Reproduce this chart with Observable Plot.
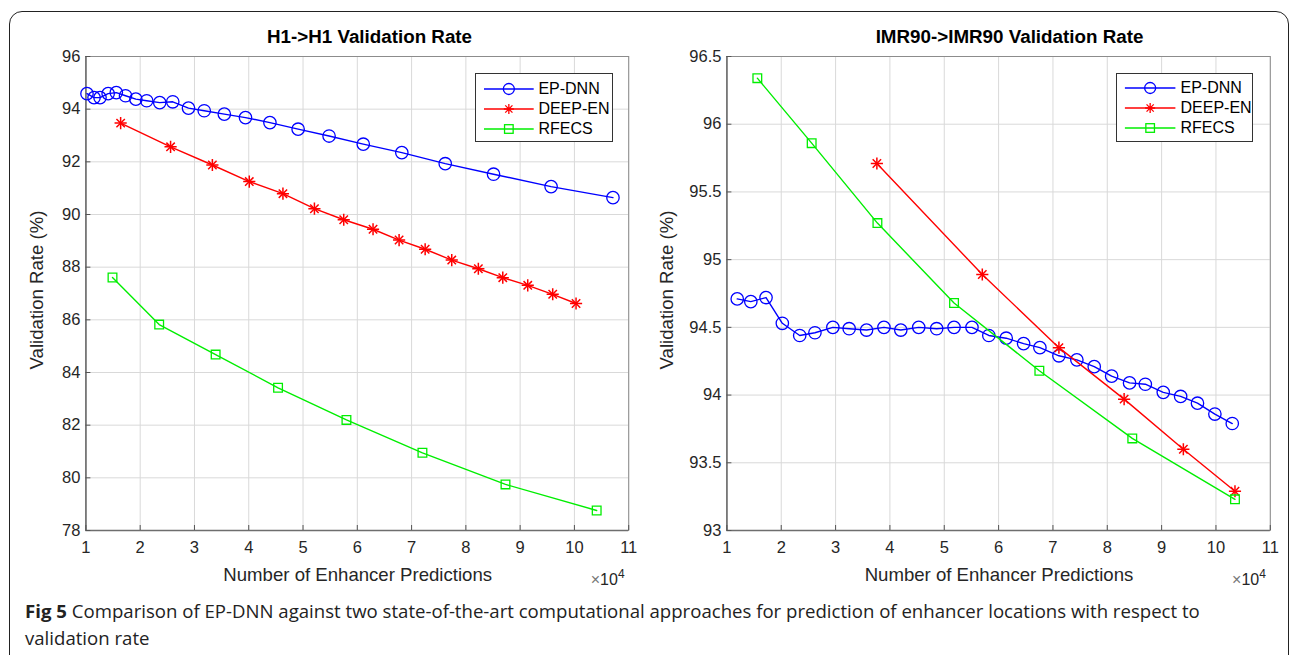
<!DOCTYPE html>
<html>
<head>
<meta charset="utf-8">
<script src="https://cdn.jsdelivr.net/npm/d3@7"></script>
<script src="https://cdn.jsdelivr.net/npm/@observablehq/plot@0.6"></script>
<style>
  html, body { margin: 0; padding: 0; background: #fff; }
  #page { position: relative; width: 1292px; height: 655px; overflow: hidden; background: #fff; font-family: "Liberation Sans", Arial, sans-serif; }
  #border { position: absolute; left: 9px; top: 11px; width: 1280px; height: 680px; border: 1.5px solid #222; border-radius: 13px; box-sizing: border-box; }
  .abs { position: absolute; white-space: nowrap; }
  .c { transform: translate(-50%, -50%); }
  .title { font-weight: bold; font-size: 18.8px; color: #000; }
  .xlab { font-size: 18.6px; color: #262626; }
  .ylab { font-size: 18.6px; color: #262626; transform: translate(-50%, -50%) rotate(-90deg); }
  .exp { font-size: 16px; color: #262626; }
  .exp .times { color: #777; }
  .legend { position: absolute; border: 1.5px solid #333; background: #fff; box-sizing: border-box; }
  .cap { position: absolute; font-family: "Open Sans", sans-serif; font-size: 18.6px; line-height: 27px; color: #222; white-space: nowrap; }
</style>
</head>
<body>
<div id="page">
  <div id="border"></div>
</div>
<script>
// ---------- data (x in units of 10^4 enhancer predictions, y in %) ----------
const seriesNames = ["EP-DNN", "DEEP-EN", "RFECS"];
const seriesColors = ["#0000ff", "#ff0000", "#00ee00"];

// H1 -> H1
const h1EpDnnX = [1.02, 1.15, 1.26, 1.41, 1.56, 1.73, 1.92, 2.12, 2.36, 2.60, 2.89, 3.18, 3.55, 3.94, 4.39, 4.91, 5.48, 6.11, 6.82, 7.62, 8.51, 9.57, 10.71];
const h1EpDnnY = [94.59, 94.44, 94.44, 94.59, 94.63, 94.51, 94.38, 94.32, 94.25, 94.28, 94.04, 93.94, 93.81, 93.68, 93.49, 93.24, 92.98, 92.67, 92.35, 91.93, 91.53, 91.06, 90.64];
const h1DeepEnX = [1.64, 2.56, 3.33, 4.01, 4.63, 5.21, 5.75, 6.29, 6.77, 7.25, 7.74, 8.23, 8.68, 9.14, 9.60, 10.03];
const h1DeepEnY = [93.47, 92.57, 91.88, 91.25, 90.79, 90.22, 89.80, 89.44, 89.03, 88.68, 88.27, 87.94, 87.60, 87.31, 86.97, 86.62];
const h1RfecsX = [1.49, 2.35, 3.39, 4.54, 5.80, 7.20, 8.73, 10.41];
const h1RfecsY = [87.61, 85.82, 84.68, 83.42, 82.20, 80.95, 79.75, 78.76];

// IMR90 -> IMR90
const imrEpDnnX = [1.19, 1.44, 1.72, 2.02, 2.34, 2.62, 2.95, 3.25, 3.57, 3.89, 4.20, 4.53, 4.86, 5.18, 5.51, 5.82, 6.14, 6.46, 6.76, 7.11, 7.44, 7.76, 8.08, 8.41, 8.70, 9.03, 9.35, 9.66, 9.98, 10.30];
const imrEpDnnY = [94.71, 94.69, 94.72, 94.53, 94.44, 94.46, 94.50, 94.49, 94.48, 94.50, 94.48, 94.50, 94.49, 94.50, 94.50, 94.44, 94.42, 94.38, 94.35, 94.29, 94.26, 94.21, 94.14, 94.09, 94.08, 94.02, 93.99, 93.94, 93.86, 93.79];
const imrDeepEnX = [3.76, 5.70, 7.11, 8.31, 9.40, 10.35];
const imrDeepEnY = [95.71, 94.89, 94.35, 93.97, 93.60, 93.29];
const imrRfecsX = [1.56, 2.56, 3.77, 5.18, 6.75, 8.46, 10.35];
const imrRfecsY = [96.34, 95.86, 95.27, 94.68, 94.18, 93.68, 93.23];

// axes
const xTicks = [1, 2, 3, 4, 5, 6, 7, 8, 9, 10, 11];
const h1YTicks = [78, 80, 82, 84, 86, 88, 90, 92, 94, 96];
const imrYTicks = [93, 93.5, 94, 94.5, 95, 95.5, 96, 96.5];

const titles = ["H1->H1 Validation Rate", "IMR90->IMR90 Validation Rate"];
const xLabel = "Number of Enhancer Predictions";
const yLabel = "Validation Rate (%)";
const captionBold = "Fig 5";
const captionLine1 = "Comparison of EP-DNN against two state-of-the-art computational approaches for prediction of enhancer locations with respect to";
const captionLine2 = "validation rate";

// ---------- helpers ----------
const zip = (name, xs, ys) => xs.map((x, i) => ({series: name, x, y: ys[i]}));

function seriesMarks(data, color, name) {
  const marks = [Plot.line(data, {x: "x", y: "y", stroke: color, strokeWidth: 1.4})];
  if (name === "EP-DNN") {
    marks.push(Plot.dot(data, {x: "x", y: "y", r: 6.2, stroke: color, strokeWidth: 1.3, fill: "none"}));
  } else if (name === "DEEP-EN") {
    marks.push(Plot.dot(data, {x: "x", y: "y", symbol: "plus", r: 4, stroke: color, strokeWidth: 1.5}));
    marks.push(Plot.dot(data, {x: "x", y: "y", symbol: "times", r: 3.9, stroke: color, strokeWidth: 1.5}));
  } else {
    marks.push(Plot.dot(data, {x: "x", y: "y", symbol: "square", r: 4.9, stroke: color, strokeWidth: 1.3, fill: "none"}));
  }
  return marks;
}

function makeChart(cfg) {
  const {groups, yDomain, yTicks, width, marginLeft, marginRight} = cfg;
  return Plot.plot({
    width,
    height: 600,
    marginTop: 56,
    marginBottom: 70,
    marginLeft,
    marginRight,
    style: {background: "transparent", fontFamily: "Liberation Sans, Arial, sans-serif", fontSize: "16.5px", color: "#262626", overflow: "visible"},
    x: {domain: [1, 11], ticks: xTicks},
    y: {domain: yDomain, ticks: yTicks},
    marks: [
      Plot.gridX(xTicks, {stroke: "#d9d9d9", strokeOpacity: 1, strokeWidth: 1}),
      Plot.gridY(yTicks, {stroke: "#d9d9d9", strokeOpacity: 1, strokeWidth: 1}),
      Plot.frame({stroke: "#8c8c8c", strokeWidth: 1}),
      Plot.ruleX([1], {stroke: "#6e6e6e", strokeWidth: 1.5}),
      Plot.ruleY([yDomain[0]], {stroke: "#6e6e6e", strokeWidth: 1.5}),
      Plot.axisX(xTicks, {anchor: "bottom", tickSize: -5, tickPadding: 16, label: null, tickFormat: d => String(d), stroke: "#555", fill: "#262626"}),
      Plot.axisY(yTicks, {anchor: "left", tickSize: -5, tickPadding: 10.5, label: null, tickFormat: d => String(d), stroke: "#555", fill: "#262626"}),
      ...groups.flatMap(g => seriesMarks(g.data, g.color, g.name))
    ]
  });
}

const page = document.getElementById("page");

function place(el, left, top) {
  el.style.position = "absolute";
  el.style.left = left + "px";
  el.style.top = top + "px";
  page.appendChild(el);
}

function addText(cls, text, x, y, html) {
  const d = document.createElement("div");
  d.className = "abs " + cls;
  if (html) d.innerHTML = text; else d.textContent = text;
  d.style.left = x + "px";
  d.style.top = y + "px";
  page.appendChild(d);
  return d;
}

function addLegend(left, top, width, height, lineX1, lineX2, textX, rowYs) {
  const box = document.createElement("div");
  box.className = "legend";
  box.style.left = left + "px";
  box.style.top = top + "px";
  box.style.width = width + "px";
  box.style.height = height + "px";
  seriesNames.forEach((name, i) => {
    const ns = "http://www.w3.org/2000/svg";
    const svg = document.createElementNS(ns, "svg");
    svg.setAttribute("width", width);
    svg.setAttribute("height", 20);
    svg.style.position = "absolute";
    svg.style.left = "-1.5px";
    svg.style.top = (rowYs[i] - top - 11.5) + "px";
    const color = seriesColors[i];
    const mid = (lineX1 + lineX2) / 2 - left;
    let inner = `<line x1="${lineX1 - left}" x2="${lineX2 - left}" y1="10" y2="10" stroke="${color}" stroke-width="1.4"/>`;
    if (i === 0) inner += `<circle cx="${mid}" cy="10" r="5.5" fill="none" stroke="${color}" stroke-width="1.3"/>`;
    if (i === 1) inner += `<path d="M${mid - 5},10h10M${mid},5v10M${mid - 3.6},6.4l7.2,7.2M${mid - 3.6},13.6l7.2,-7.2" stroke="${color}" stroke-width="1.3"/>`;
    if (i === 2) inner += `<rect x="${mid - 4.3}" y="5.7" width="8.6" height="8.6" fill="none" stroke="${color}" stroke-width="1.3"/>`;
    svg.innerHTML = inner;
    box.appendChild(svg);
    const t = document.createElement("span");
    t.textContent = name;
    t.style.position = "absolute";
    t.style.whiteSpace = "nowrap";
    t.style.left = (textX - left - 1.5) + "px";
    t.style.top = (rowYs[i] - top - 1.5) + "px";
    t.style.transform = "translateY(-52%)";
    t.style.fontSize = "16px";
    t.style.color = "#000";
    box.appendChild(t);
  });
  page.appendChild(box);
}

// ---------- left chart (plot area x 85.4 .. 628.2) ----------
const leftChart = makeChart({
  groups: [
    {name: "EP-DNN", color: seriesColors[0], data: zip("EP-DNN", h1EpDnnX, h1EpDnnY)},
    {name: "DEEP-EN", color: seriesColors[1], data: zip("DEEP-EN", h1DeepEnX, h1DeepEnY)},
    {name: "RFECS", color: seriesColors[2], data: zip("RFECS", h1RfecsX, h1RfecsY)}
  ],
  yDomain: [78, 96], yTicks: h1YTicks, width: 660, marginLeft: 85.4, marginRight: 31.8
});
place(leftChart, 0, 0);

// ---------- right chart (plot area x 726.4 .. 1269.8) ----------
const rightChart = makeChart({
  groups: [
    {name: "EP-DNN", color: seriesColors[0], data: zip("EP-DNN", imrEpDnnX, imrEpDnnY)},
    {name: "DEEP-EN", color: seriesColors[1], data: zip("DEEP-EN", imrDeepEnX, imrDeepEnY)},
    {name: "RFECS", color: seriesColors[2], data: zip("RFECS", imrRfecsX, imrRfecsY)}
  ],
  yDomain: [93, 96.5], yTicks: imrYTicks, width: 632, marginLeft: 66.4, marginRight: 22.2
});
place(rightChart, 660, 0);

// ---------- texts ----------
addText("c title", titles[0], 369.5, 37);
addText("c title", titles[1], 1009.5, 37);
addText("c xlab", xLabel, 357.7, 575);
addText("c xlab", xLabel, 999, 575);
addText("ylab", yLabel, 37, 290);
addText("ylab", yLabel, 667, 290);
addText("c exp", '<span class="times">×</span>10<sup style="font-size:12px">4</sup>', 607.7, 578, true);
addText("c exp", '<span class="times">×</span>10<sup style="font-size:12px">4</sup>', 1249, 578, true);

// ---------- legends ----------
addLegend(474.6, 73, 138.3, 69, 484.6, 534.3, 538.9, [89, 109, 129.3]);
addLegend(1115.6, 73, 137, 69, 1125.5, 1176, 1181, [88.5, 108.5, 128.5]);

// ---------- caption (separate, non-overlapping text pieces) ----------
const capBold = document.createElement("div");
capBold.className = "cap";
capBold.style.fontWeight = "bold";
capBold.style.left = "25px";
capBold.style.top = "597px";
capBold.textContent = captionBold;
page.appendChild(capBold);
const boldW = capBold.getBoundingClientRect().width;
const cap1 = document.createElement("div");
cap1.className = "cap";
cap1.style.left = (25 + boldW + 5) + "px";
cap1.style.top = "597px";
cap1.textContent = captionLine1;
page.appendChild(cap1);
const cap2 = document.createElement("div");
cap2.className = "cap";
cap2.style.left = "25px";
cap2.style.top = "624px";
cap2.textContent = captionLine2;
page.appendChild(cap2);
</script>
</body>
</html>
